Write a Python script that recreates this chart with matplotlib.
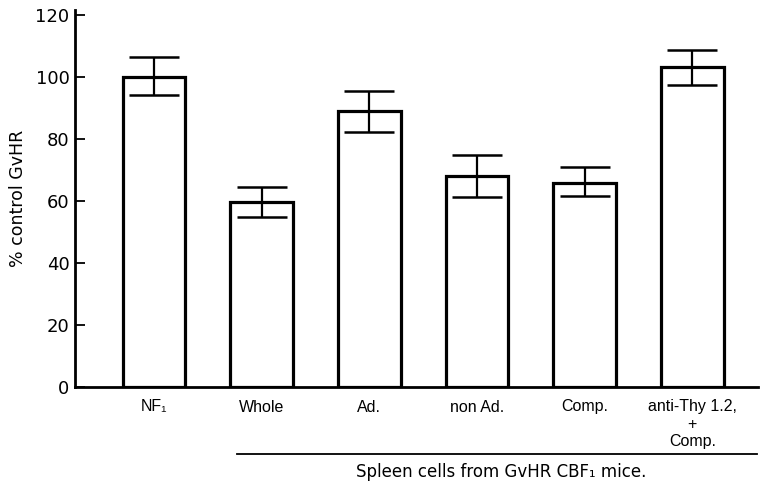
import matplotlib
matplotlib.use("Agg")
import matplotlib.pyplot as plt
from matplotlib.lines import Line2D
import numpy as np

plt.rcParams["font.family"] = ["Liberation Sans", "DejaVu Sans"]

# values
categories = ["NF\u2081", "Whole", "Ad.", "non Ad.", "Comp.", "anti-Thy 1.2,\n+\nComp."]
means = [100, 59.7, 89, 68, 65.8, 103.2]
err_hi = [106.5, 64.5, 95.5, 74.8, 71.0, 108.7]
err_lo = [94.2, 54.8, 82.3, 61.3, 61.6, 97.4]
y_ticks = [0, 20, 40, 60, 80, 100, 120]

x = np.arange(len(categories))
means_arr = np.array(means)
yerr = [means_arr - np.array(err_lo), np.array(err_hi) - means_arr]

fig = plt.figure(figsize=(7.6, 4.82), dpi=100)
ax = fig.add_axes([75 / 760, 1 - 387 / 482, 683 / 760, 377 / 482])

ax.bar(x, means, width=0.58, facecolor="white", edgecolor="black", linewidth=2.3, zorder=2)
ax.errorbar(x, means, yerr=yerr, fmt="none", ecolor="black", elinewidth=1.6,
            capsize=18, capthick=1.8, zorder=3)

ax.set_xlim(-0.734, 5.61)
ax.set_ylim(0, 121.6)
ax.set_yticks(y_ticks)
ax.set_yticklabels([str(v) for v in y_ticks], family=["DejaVu Sans"], fontsize=13)
ax.set_xticks(x)
ax.set_xticklabels(categories, fontsize=11.5, linespacing=1.2, va="top")
ax.tick_params(axis="x", length=0, pad=9)
ax.tick_params(axis="y", direction="in", length=7, width=1.3, pad=4)

for side in ("top", "right"):
    ax.spines[side].set_visible(False)
ax.spines["left"].set_linewidth(2.0)
ax.spines["bottom"].set_linewidth(2.0)

ax.set_ylabel("% control GvHR", family=["DejaVu Sans"], fontsize=12.5, labelpad=6)

# group underline and caption
fig.add_artist(Line2D([237 / 760, 757 / 760], [1 - 454 / 482] * 2,
                      transform=fig.transFigure, color="black", linewidth=1.3))
fig.text(501 / 760, 1 - 472 / 482, "Spleen cells from GvHR CBF\u2081 mice.",
         ha="center", va="center", family=["DejaVu Sans"], fontsize=12)

fig.savefig("out.png", dpi=100)
